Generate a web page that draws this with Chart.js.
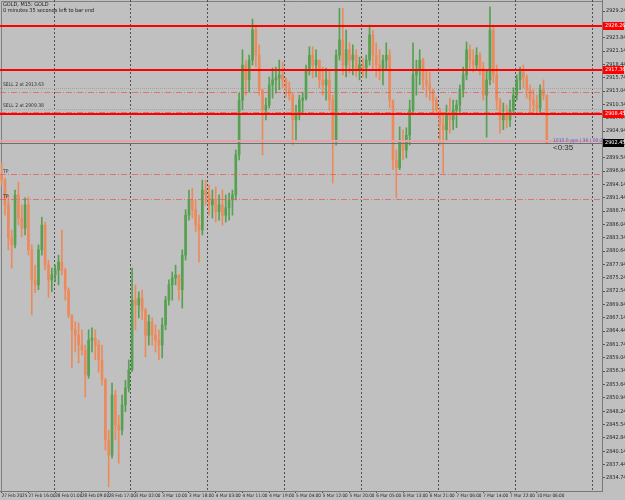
<!DOCTYPE html>
<html>
<head>
<meta charset="utf-8">
<script src="https://cdn.jsdelivr.net/npm/chart.js@4.4.1/dist/chart.umd.min.js"></script>
<style>
  html, body { margin: 0; padding: 0; background: #c0c0c0; }
  canvas { display: block; }
</style>
</head>
<body>
<canvas id="chart" width="625" height="500"></canvas>
<script>
// GOLD H1 candles, 27 Feb 08:00 .. 10 Mar 10:00
const firstOpen = 2896.0;
const highs = [
  2898.5, 2895.4, 2892.0, 2884.9, 2893.0, 2894.6, 2890.0, 2891.4, 2891.6, 2881.9,
  2877.8, 2881.9, 2887.5, 2886.5, 2878.8, 2877.2, 2877.8, 2879.8, 2884.9, 2877.2,
  2873.2, 2867.7, 2866.3, 2866.1, 2864.7, 2861.6, 2864.7, 2865.1, 2864.7, 2862.6,
  2861.6, 2854.9, 2844.4, 2853.9, 2852.5, 2847.4, 2851.5, 2854.5, 2858.6, 2877.2,
  2873.8, 2872.4, 2872.8, 2869.1, 2867.7, 2867.1, 2865.7, 2864.7, 2867.1, 2871.5,
  2874.8, 2876.4, 2877.8, 2875.8, 2880.9, 2889.0, 2893.0, 2893.4, 2891.0, 2887.9,
  2895.0, 2895.0, 2894.0, 2893.0, 2893.6, 2892.0, 2893.0, 2892.0, 2892.4, 2893.0,
  2901.1, 2912.6, 2921.4, 2919.3, 2920.3, 2927.6, 2926.4, 2922.4, 2913.3, 2911.6,
  2915.9, 2917.7, 2917.9, 2919.3, 2918.9, 2915.7, 2914.9, 2912.8, 2910.2, 2912.2,
  2912.8, 2918.3, 2922.0, 2922.0, 2921.4, 2919.3, 2917.9, 2917.7, 2917.3, 2912.2,
  2921.4, 2929.8, 2929.8, 2925.4, 2922.8, 2922.4, 2921.4, 2919.9, 2919.7, 2920.3,
  2926.4, 2925.4, 2922.8, 2921.4, 2920.3, 2922.8, 2921.4, 2911.2, 2901.1, 2905.8,
  2905.2, 2905.6, 2911.2, 2922.8, 2919.3, 2921.4, 2919.7, 2917.3, 2916.9, 2913.3,
  2911.8, 2909.6, 2908.2, 2910.2, 2911.6, 2911.2, 2911.2, 2914.3, 2917.9, 2923.0,
  2922.4, 2921.4, 2921.8, 2920.9, 2918.9, 2917.3, 2930.1, 2926.4, 2918.3, 2911.6,
  2910.6, 2910.2, 2911.2, 2913.7, 2916.3, 2917.9, 2918.3, 2916.3, 2914.3, 2913.3,
  2912.2, 2914.3, 2915.3, 2912.2
];
const lows = [
  2894.0, 2887.9, 2880.9, 2877.2, 2881.3, 2885.9, 2883.5, 2883.9, 2879.8, 2867.7,
  2872.2, 2872.8, 2879.8, 2876.8, 2871.3, 2872.4, 2874.4, 2873.8, 2875.8, 2870.7,
  2867.1, 2857.0, 2860.2, 2858.0, 2859.6, 2851.1, 2854.9, 2860.2, 2858.6, 2856.1,
  2853.5, 2840.4, 2832.9, 2838.7, 2842.4, 2837.7, 2843.4, 2848.1, 2852.1, 2856.2,
  2864.7, 2867.1, 2866.7, 2859.2, 2861.6, 2861.6, 2860.2, 2858.6, 2859.0, 2864.7,
  2869.7, 2870.7, 2873.8, 2870.7, 2869.1, 2878.8, 2886.9, 2887.3, 2884.5, 2878.4,
  2883.9, 2890.0, 2887.9, 2887.3, 2886.5, 2886.9, 2885.9, 2886.5, 2886.9, 2887.9,
  2891.0, 2899.1, 2909.2, 2912.2, 2912.8, 2918.3, 2917.9, 2912.2, 2900.1, 2907.2,
  2909.6, 2911.6, 2912.6, 2913.3, 2913.7, 2911.8, 2911.2, 2902.1, 2903.1, 2907.2,
  2908.6, 2911.2, 2916.3, 2915.7, 2915.9, 2913.7, 2912.2, 2911.2, 2909.2, 2894.4,
  2902.1, 2919.3, 2916.3, 2915.9, 2916.7, 2916.3, 2915.9, 2915.3, 2915.9, 2915.7,
  2918.3, 2917.3, 2915.9, 2915.3, 2914.3, 2917.3, 2909.6, 2897.1, 2891.4, 2897.1,
  2899.1, 2899.5, 2902.1, 2908.2, 2912.2, 2914.3, 2913.3, 2911.8, 2911.2, 2908.8,
  2908.2, 2902.1, 2896.4, 2903.1, 2904.5, 2905.2, 2905.6, 2908.2, 2911.8, 2915.3,
  2917.3, 2916.9, 2917.3, 2916.3, 2911.2, 2903.7, 2914.3, 2914.7, 2909.2, 2904.5,
  2905.2, 2905.6, 2905.8, 2908.2, 2911.2, 2913.3, 2913.7, 2911.6, 2908.6, 2908.8,
  2908.2, 2908.8, 2911.2, 2902.4
];
const closes = [
  2895.0, 2890.0, 2883.3, 2881.9, 2892.0, 2887.3, 2885.3, 2890.0, 2880.9, 2874.8,
  2873.8, 2880.9, 2885.9, 2877.8, 2874.8, 2875.8, 2876.8, 2878.4, 2876.8, 2872.8,
  2867.7, 2864.7, 2863.6, 2861.6, 2860.6, 2855.5, 2862.6, 2863.0, 2861.6, 2858.6,
  2854.5, 2842.4, 2839.3, 2851.5, 2845.4, 2844.4, 2849.5, 2852.9, 2856.6, 2870.7,
  2869.7, 2871.1, 2868.7, 2863.6, 2866.3, 2863.6, 2862.6, 2861.6, 2865.7, 2870.7,
  2873.8, 2875.2, 2875.8, 2872.8, 2879.8, 2887.9, 2891.0, 2889.0, 2885.9, 2884.9,
  2893.0, 2892.0, 2890.0, 2891.0, 2888.6, 2890.0, 2887.9, 2889.4, 2891.0, 2892.0,
  2900.1, 2911.2, 2918.3, 2915.3, 2919.3, 2925.4, 2920.3, 2913.3, 2909.2, 2910.2,
  2914.3, 2915.3, 2915.7, 2916.3, 2915.3, 2913.3, 2912.2, 2907.2, 2908.2, 2911.2,
  2911.6, 2917.3, 2920.3, 2918.3, 2919.3, 2915.3, 2914.3, 2915.3, 2911.2, 2903.1,
  2920.3, 2923.4, 2918.3, 2921.4, 2919.3, 2920.3, 2917.3, 2918.3, 2917.7, 2919.3,
  2924.4, 2920.3, 2918.3, 2917.3, 2919.3, 2920.3, 2911.2, 2899.1, 2897.5, 2903.1,
  2901.1, 2904.1, 2909.2, 2916.3, 2917.3, 2919.3, 2915.3, 2914.3, 2913.3, 2911.2,
  2909.2, 2906.2, 2905.2, 2908.2, 2907.2, 2909.2, 2910.2, 2913.3, 2916.3, 2921.4,
  2919.3, 2918.3, 2920.3, 2917.7, 2912.2, 2915.3, 2925.4, 2916.3, 2911.2, 2907.2,
  2908.2, 2907.2, 2909.2, 2912.2, 2915.3, 2916.9, 2915.7, 2913.3, 2911.2, 2910.2,
  2909.6, 2913.3, 2912.2, 2902.45
];

// time axis: one slot per hour, chart shifted into the future up to slot 179
const slotCount = 180;
const tickEvery = 8;
const tickLabels = [
  '27 Feb 2025', '27 Feb 16:00', '28 Feb 01:00', '28 Feb 09:00', '28 Feb 17:00',
  '3 Mar 02:00', '3 Mar 10:00', '3 Mar 18:00', '4 Mar 03:00', '4 Mar 11:00',
  '4 Mar 19:00', '5 Mar 04:00', '5 Mar 12:00', '5 Mar 20:00', '6 Mar 05:00',
  '6 Mar 13:00', '6 Mar 21:00', '7 Mar 06:00', '7 Mar 14:00', '7 Mar 22:00',
  '10 Mar 06:00'
];
const daySeparators = [16, 39, 62, 85, 108, 131, 154, 177];

const priceTicks = [
  2834.74, 2837.44, 2840.14, 2842.84, 2845.54, 2848.24, 2850.94, 2853.64, 2856.34,
  2859.04, 2861.74, 2864.44, 2867.14, 2869.84, 2872.54, 2875.24, 2877.94, 2880.64,
  2883.34, 2886.04, 2888.74, 2891.44, 2894.14, 2896.84, 2899.54, 2902.24, 2904.94,
  2907.64, 2910.34, 2913.04, 2915.74, 2918.44, 2921.14, 2923.84, 2926.54, 2929.24
];
const priceMin = 2832.06;
const priceMax = 2931.47;

// levels drawn on the chart
const redLevels = [2926.26, 2917.36, 2908.45];
const orderPrices = [2913.63, 2909.38];
const orderLabels = ['SELL 2 at 2913.63', 'SELL 2 at 2909.38'];
const stopLevels = [2912.78, 2908.73, 2896.30, 2891.24];
const tpLevels = [2896.30, 2891.24];
const bidPrice = 2902.45;
const askPrice = 2902.98;

const UP = '#56a052';
const DOWN = '#ec8a5c';
const SMALL = '"Liberation Sans Narrow", "DejaVu Sans Condensed", "Liberation Sans"';

const opens = [firstOpen].concat(closes.slice(0, -1));
const slots = Array.from({ length: slotCount }, (_, i) => i);
const candleColor = (c) => closes[c.dataIndex] >= opens[c.dataIndex] ? UP : DOWN;

const overlay = {
  id: 'overlay',
  beforeDatasetsDraw(chart) {
    const { ctx, chartArea: a, scales: { x, y } } = chart;
    const half = (x.getPixelForValue(1) - x.getPixelForValue(0)) / 2;
    ctx.save();
    // frame
    ctx.strokeStyle = '#808080';
    ctx.lineWidth = 1;
    ctx.beginPath();
    ctx.moveTo(a.left + 1.5, a.bottom); ctx.lineTo(a.left + 1.5, a.top + 1.5); ctx.lineTo(a.right, a.top + 1.5);
    ctx.stroke();
    // day separators
    ctx.strokeStyle = '#505050';
    ctx.setLineDash([2, 2]);
    daySeparators.forEach((i) => {
      const px = Math.round(x.getPixelForValue(i) - half) + 0.5;
      ctx.beginPath(); ctx.moveTo(px, a.top); ctx.lineTo(px, a.bottom); ctx.stroke();
    });
    // order open prices
    ctx.strokeStyle = '#a4a4a4';
    ctx.setLineDash([1, 1]);
    orderPrices.forEach((p) => {
      const py = Math.round(y.getPixelForValue(p)) + 0.5;
      ctx.beginPath(); ctx.moveTo(a.left, py); ctx.lineTo(a.right, py); ctx.stroke();
    });
    ctx.restore();
  },
  afterDatasetsDraw(chart) {
    const { ctx, chartArea: a, scales: { y } } = chart;
    ctx.save();
    // stop / target lines
    ctx.strokeStyle = 'rgba(232, 90, 90, 0.75)';
    ctx.lineWidth = 1;
    ctx.setLineDash([6, 2, 1, 2]);
    stopLevels.forEach((p) => {
      const py = Math.round(y.getPixelForValue(p)) + 0.5;
      ctx.beginPath(); ctx.moveTo(a.left, py); ctx.lineTo(a.right, py); ctx.stroke();
    });
    ctx.setLineDash([]);
    // ask / bid
    let py = Math.round(y.getPixelForValue(askPrice));
    ctx.strokeStyle = '#e3a3a3'; ctx.lineWidth = 2;
    ctx.beginPath(); ctx.moveTo(a.left, py); ctx.lineTo(a.right, py); ctx.stroke();
    py = Math.round(y.getPixelForValue(bidPrice)) + 0.5;
    ctx.strokeStyle = '#6e6e6e'; ctx.lineWidth = 1;
    ctx.beginPath(); ctx.moveTo(a.left, py); ctx.lineTo(a.right, py); ctx.stroke();
    // red horizontal levels
    ctx.strokeStyle = '#ff0000'; ctx.lineWidth = 2;
    redLevels.forEach((p) => {
      const ly = Math.round(y.getPixelForValue(p));
      ctx.beginPath(); ctx.moveTo(a.left, ly); ctx.lineTo(a.right, ly); ctx.stroke();
    });

    // texts
    ctx.textBaseline = 'alphabetic';
    ctx.fillStyle = '#1a1a1a';
    ctx.font = '5.5px ' + SMALL;
    ctx.fillText('GOLD, M15: GOLD', 3, 6);
    ctx.fillText('0 minutes 35 seconds left to bar end', 3, 12);
    ctx.font = '5px ' + SMALL;
    ctx.fillStyle = '#333';
    orderPrices.forEach((p, i) => {
      ctx.fillText(orderLabels[i], 3, y.getPixelForValue(p) - 2);
    });
    tpLevels.forEach((p) => ctx.fillText('TP', 3, y.getPixelForValue(p) - 1));
    ctx.fillStyle = '#5b55d6';
    ctx.fillText('1010.0 pps | 36 | 00:26', 553, y.getPixelForValue(askPrice) + 1);
    ctx.fillStyle = '#303030';
    ctx.font = '8px "Liberation Sans"';
    ctx.fillText('<0:35', 553, y.getPixelForValue(bidPrice) + 7);

    // price boxes on the axis
    ctx.font = '5.5px ' + SMALL;
    ctx.textBaseline = 'middle';
    const box = (p, bg) => {
      const by = Math.round(y.getPixelForValue(p));
      ctx.fillStyle = bg;
      ctx.fillRect(a.right + 1, by - 4, 21, 8);
      ctx.fillStyle = '#ffffff';
      ctx.fillText(p.toFixed(2), a.right + 3, by);
    };
    redLevels.forEach((p) => box(p, '#ff0000'));
    box(bidPrice, '#000000');
    ctx.restore();
  }
};

new Chart(document.getElementById('chart'), {
  type: 'bar',
  data: {
    labels: slots,
    datasets: [
      {
        label: 'body',
        data: opens.map((o, i) => [o, closes[i]]),
        backgroundColor: candleColor,
        barThickness: 2,
        minBarLength: 1,
        grouped: false
      },
      {
        label: 'wick',
        data: lows.map((l, i) => [l, highs[i]]),
        backgroundColor: candleColor,
        barThickness: 1,
        grouped: false
      }
    ]
  },
  options: {
    responsive: false,
    animation: false,
    devicePixelRatio: 1,
    layout: { padding: 0 },
    plugins: { legend: { display: false }, tooltip: { enabled: false } },
    scales: {
      x: {
        type: 'category',
        border: { display: true, color: '#777' },
        grid: { display: true, drawOnChartArea: false, drawTicks: true, tickLength: 2, offset: false, color: '#555' },
        ticks: {
          autoSkip: false,
          maxRotation: 0,
          align: 'start',
          padding: 0,
          color: '#222',
          font: { family: SMALL, size: 4.6 },
          callback: (v) => tickLabels[v / tickEvery]
        },
        afterBuildTicks: (s) => {
          s.ticks = s.ticks.filter((t) => t.value % tickEvery === 0 && t.value / tickEvery < tickLabels.length);
        },
        afterFit: (s) => {
          s.height = 9;
          s.paddingLeft = 0; s.paddingRight = 0;
        }
      },
      y: {
        type: 'linear',
        position: 'right',
        min: priceMin,
        max: priceMax,
        border: { display: true, color: '#777' },
        grid: { display: true, drawOnChartArea: false, drawTicks: true, tickLength: 3, color: '#555' },
        ticks: {
          autoSkip: false,
          padding: 1,
          color: '#222',
          font: { family: SMALL, size: 5.5 },
          callback: (v) => v.toFixed(2)
        },
        afterBuildTicks: (s) => {
          s.ticks = priceTicks.map((v) => ({ value: v }));
        },
        afterFit: (s) => {
          s.width = 23;
          s.paddingTop = 0; s.paddingBottom = 0;
        }
      }
    }
  },
  plugins: [overlay]
});
</script>
</body>
</html>
